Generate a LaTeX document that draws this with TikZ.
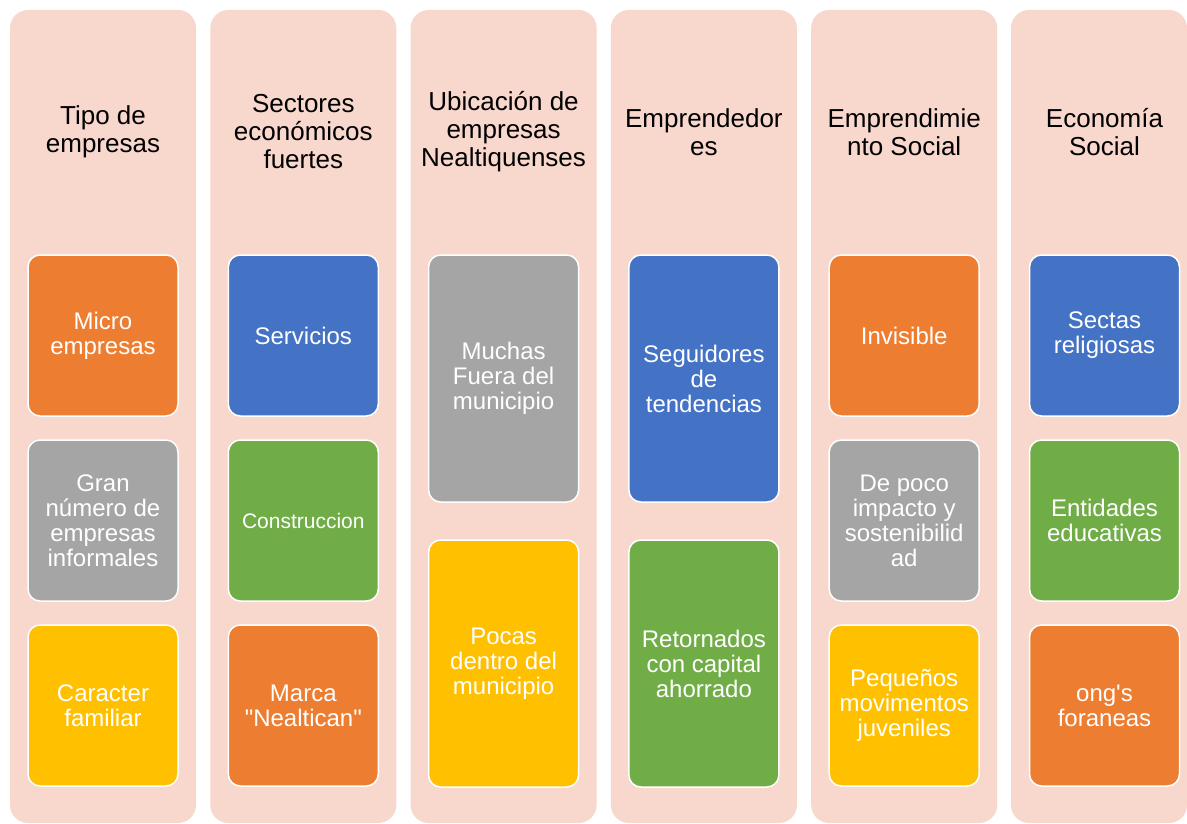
\documentclass[tikz,border=0pt]{standalone}
\usepackage{fontspec}
\setmainfont{Liberation Sans}[Ligatures=TeXOff]
\usepackage{tikz}
\usetikzlibrary{positioning}

\definecolor{pinkbg}{HTML}{F8D7CD}
\definecolor{orangec}{HTML}{ED7D31}
\definecolor{bluec}{HTML}{4472C4}
\definecolor{grayc}{HTML}{A5A5A5}
\definecolor{greenc}{HTML}{70AD47}
\definecolor{yellowc}{HTML}{FFC000}

\begin{document}
\begin{tikzpicture}[x=1pt, y=-1pt,
    column/.style={rectangle, rounded corners=18pt, fill=pinkbg, minimum width=186pt, minimum height=813pt, inner sep=0pt},
    head/.style={align=center, text=black, font=\fontsize{26}{28}\selectfont},
    cell/.style={rectangle, rounded corners=12pt, draw=white, line width=1.5pt, fill=#1, text=white, align=center,
                 minimum width=150pt, inner sep=0pt, font=\fontsize{24}{25}\selectfont}]
    \useasboundingbox (0,0) rectangle (1187,824);

    % Columns
    \foreach \x/\n in {103/1, 303.3/2, 503.6/3, 703.9/4, 904.2/5} {
        \node[column] (col\n) at (\x, 416.5) {};
    }
    \node[column, minimum width=176pt] (col6) at (1099, 416.5) {};

    % Headers
    \foreach \x/\n/\label in {103/1/{Tipo de\\empresas}, 303.3/2/{Sectores\\económicos\\fuertes},
                              503.6/3/{Ubicación de\\empresas\\Nealtiquenses}, 703.9/4/{Emprendedor\\es},
                              904.2/5/{Emprendimie\\nto Social}, 1104.5/6/{Economía\\Social}} {
        \node[head] (head\n) at (\x, 132) {\label};
    }

    % Three-box columns
    \node[cell=orangec, minimum height=161pt] (a1) at (103, 335.5) {Micro\\empresas};
    \node[cell=grayc, minimum height=161pt] (a2) at (103, 520.5) {Gran\\número de\\empresas\\informales};
    \node[cell=yellowc, minimum height=161pt] (a3) at (103, 705.5) {Caracter\\familiar};
    \node[cell=bluec, minimum height=161pt] (b1) at (303.3, 335.5) {Servicios};
    \node[cell=greenc, minimum height=161pt, font=\fontsize{21}{23}\selectfont] (b2) at (303.3, 520.5) {Construccion};
    \node[cell=orangec, minimum height=161pt] (b3) at (303.3, 705.5) {Marca\\"Nealtican"};
    \node[cell=orangec, minimum height=161pt] (e1) at (904.2, 335.5) {Invisible};
    \node[cell=grayc, minimum height=161pt] (e2) at (904.2, 520.5) {De poco\\impacto y\\sostenibilid\\ad};
    \node[cell=yellowc, minimum height=161pt] (e3) at (904.2, 705.5) {Pequeños\\movimentos\\juveniles};
    \node[cell=bluec, minimum height=161pt] (f1) at (1104.5, 335.5) {Sectas\\religiosas};
    \node[cell=greenc, minimum height=161pt] (f2) at (1104.5, 520.5) {Entidades\\educativas};
    \node[cell=orangec, minimum height=161pt] (f3) at (1104.5, 705.5) {ong's\\foraneas};

    % Two-box columns
    \node[cell=grayc, minimum height=247pt] (c1) at (503.6, 378.5) {Muchas\\Fuera del\\municipio};
    \node[cell=yellowc, minimum height=247pt] (c2) at (503.6, 663.5) {Pocas\\dentro del\\municipio};
    \node[cell=bluec, minimum height=247pt] (d1) at (703.9, 378.5) {Seguidores\\de\\tendencias};
    \node[cell=greenc, minimum height=247pt] (d2) at (703.9, 663.5) {Retornados\\con capital\\ahorrado};
\end{tikzpicture}
\end{document}
